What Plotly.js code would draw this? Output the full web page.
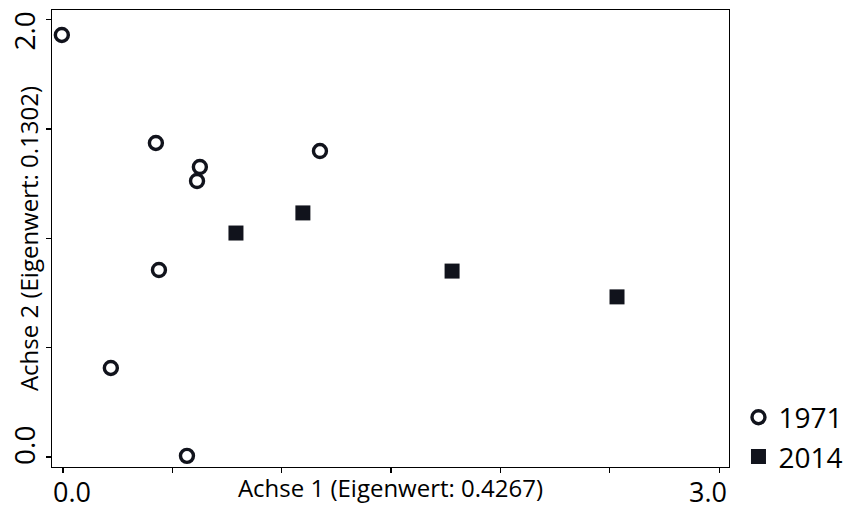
<!DOCTYPE html>
<html>
<head>
<meta charset="utf-8">
<script src="https://cdn.plot.ly/plotly-3.0.1.min.js"></script>
<style>html,body{margin:0;padding:0;background:#fff;}#chart{width:850px;height:509px;}</style>
</head>
<body>
<div id="chart"></div>
<script>
// Data
const x1971 = [-0.005, 0.425, 0.626, 0.613, 1.175, 0.439, 0.219, 0.567];
const y1971 = [1.93, 1.436, 1.326, 1.262, 1.399, 0.855, 0.407, 0.005];
const x2014 = [0.791, 1.097, 1.779, 2.533];
const y2014 = [1.024, 1.116, 0.850, 0.732];

const seriesNames = ['1971', '2014'];
const xTickVals = [0, 0.5, 1.0, 1.5, 2.0, 2.5, 3.0];
const yTickVals = [0, 0.5, 1.0, 1.5, 2.0];
const xLabelVals = [0, 3];
const xLabelText = ['0.0', '3.0'];
const yLabelVals = [0, 2];
const yLabelText = ['0.0', '2.0'];
const xTitle = 'Achse 1 (Eigenwert: 0.4267)';
const yTitle = 'Achse 2 (Eigenwert: 0.1302)';

const FONT = '"Open Sans", sans-serif';
const INK = '#11131c';

const traces = [
  {
    x: x1971, y: y1971, name: seriesNames[0], type: 'scatter', mode: 'markers',
    marker: {symbol: 'circle-open', size: 13, color: INK, line: {width: 3.4, color: INK}}
  },
  {
    x: x2014, y: y2014, name: seriesNames[1], type: 'scatter', mode: 'markers',
    marker: {symbol: 'square', size: 15, color: INK, line: {width: 0}}
  }
];

const xShifts = [9, -11];
const yShifts = [11, -12];
const annotations = [];
xLabelVals.forEach((v, i) => annotations.push({
  x: v, xref: 'x', y: 0, yref: 'paper', text: xLabelText[i], showarrow: false,
  xanchor: 'center', yanchor: 'middle',
  xshift: xShifts[i], yshift: -24,
  font: {family: FONT, size: 27, color: '#000'}
}));
yLabelVals.forEach((v, i) => annotations.push({
  x: 0, xref: 'paper', y: v, yref: 'y', text: yLabelText[i], showarrow: false,
  textangle: -90, xanchor: 'center', yanchor: 'middle', xshift: -28, yshift: yShifts[i],
  font: {family: FONT, size: 28, color: '#000'}
}));

const layout = {
  width: 850, height: 509,
  margin: {l: 52, r: 121, t: 10, b: 42, autoexpand: false},
  paper_bgcolor: '#fff', plot_bgcolor: '#fff',
  font: {family: FONT, color: '#000'},
  showlegend: true,
  legend: {
    x: 1.014, xanchor: 'left', y: 0.163, yanchor: 'top',
    font: {family: FONT, size: 28, color: '#000'},
    itemwidth: 30, tracegroupgap: 0, bgcolor: 'rgba(0,0,0,0)'
  },
  xaxis: {
    range: [-0.05, 3.045], tickvals: xTickVals, showticklabels: false,
    ticks: 'outside', ticklen: 5, tickwidth: 1.3, tickcolor: '#000',
    showline: true, mirror: true, linecolor: '#000', linewidth: 1.3,
    showgrid: false, zeroline: false,
    title: {text: xTitle, standoff: 8, font: {family: FONT, size: 24, color: '#000'}}
  },
  yaxis: {
    range: [-0.046, 2.044], tickvals: yTickVals, showticklabels: false,
    ticks: 'outside', ticklen: 5, tickwidth: 1.3, tickcolor: '#000',
    showline: true, mirror: true, linecolor: '#000', linewidth: 1.3,
    showgrid: false, zeroline: false,
    title: {text: yTitle, standoff: 0, font: {family: FONT, size: 24, color: '#000'}}
  },
  annotations: annotations
};

Plotly.newPlot('chart', traces, layout, {displayModeBar: false, staticPlot: true});
</script>
</body>
</html>
